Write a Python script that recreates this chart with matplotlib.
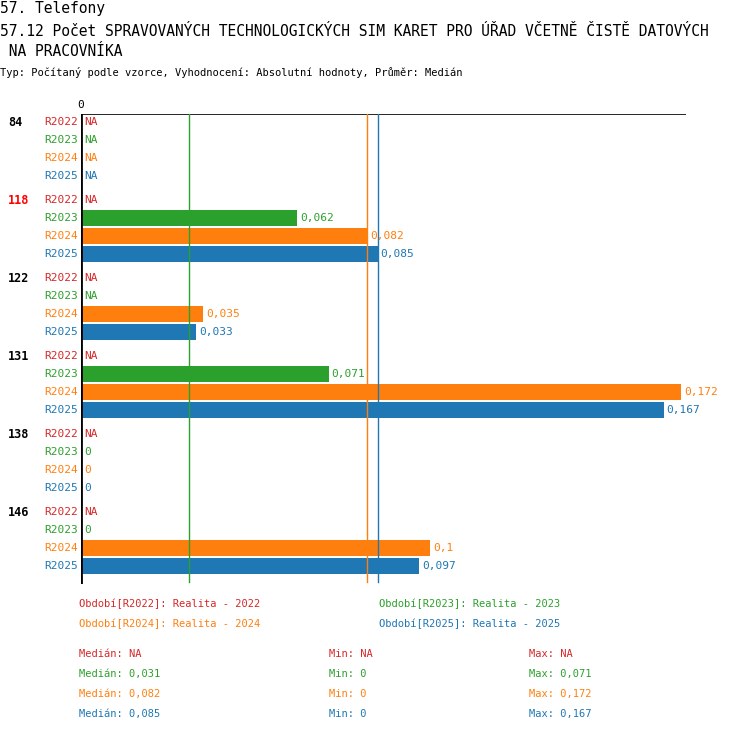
import matplotlib
matplotlib.use('Agg')
import matplotlib.pyplot as plt
import numpy as np

plt.rcParams['font.family'] = ['DejaVu Sans Mono']

groups = ['84', '118', '122', '131', '138', '146']
series = ['R2022', 'R2023', 'R2024', 'R2025']
colors = ['#d62728', '#2ca02c', '#ff7f0e', '#1f77b4']
values = [
    [None, None, None, None],
    [None, 0.062, 0.082, 0.085],
    [None, None, 0.035, 0.033],
    [None, 0.071, 0.172, 0.167],
    [None, 0, 0, 0],
    [None, 0, 0.1, 0.097],
]
labels = [
    [None, None, None, None],
    [None, '0,062', '0,082', '0,085'],
    [None, None, '0,035', '0,033'],
    [None, '0,071', '0,172', '0,167'],
    [None, '0', '0', '0'],
    [None, '0', '0,1', '0,097'],
]
medians = [None, 0.031, 0.082, 0.085]
legend_names = ['Období[R2022]: Realita - 2022', 'Období[R2023]: Realita - 2023',
                'Období[R2024]: Realita - 2024', 'Období[R2025]: Realita - 2025']
stats_med = ['Medián: NA', 'Medián: 0,031', 'Medián: 0,082', 'Medián: 0,085']
stats_min = ['Min: NA', 'Min: 0', 'Min: 0', 'Min: 0']
stats_max = ['Max: NA', 'Max: 0,071', 'Max: 0,172', 'Max: 0,167']

W, H = 750, 732
fig = plt.figure(figsize=(W / 100, H / 100), dpi=100)
x0, x1, y0, y1 = 81, 686, 114, 584
ax = fig.add_axes([x0 / W, 1 - y1 / H, (x1 - x0) / W, (y1 - y0) / H])
ppu = 600 / 0.172
ax.set_xlim(0, (x1 - x0) / ppu)
ax.set_ylim(y1, y0)
ax.axis('off')
ax.plot([0, 1], [1, 1], transform=ax.transAxes, color='black', lw=1.2)
ax.plot([0, 0], [0, 1], transform=ax.transAxes, color='black', lw=2)
ax.text(0, y0 - 4, '0', ha='center', va='bottom', fontsize=8)

for m, c in zip(medians, colors):
    if m is not None:
        ax.plot([m, m], [y0, y1 - 2], color=c, lw=1)

for g, name in enumerate(groups):
    for r, s in enumerate(series):
        y = 122 + 78 * g + 18 * r
        v = values[g][r]
        c = colors[r]
        ax.text(-3 / ppu, y, s, ha='right', va='center', fontsize=8, color=c)
        if v is None:
            ax.text(3 / ppu, y, 'NA', ha='left', va='center', fontsize=8, color=c)
        else:
            if v > 0:
                ax.barh(y, v, height=16, color=c)
            ax.text(v + 3 / ppu, y, labels[g][r], ha='left', va='center', fontsize=8, color=c)
    fig.text(8 / W, 1 - (122 + 78 * g) / H, name, ha='left', va='center', fontsize=8.5,
             fontweight='bold', color='red' if name == '118' else 'black')

fig.text(0, 1 - 8 / H, '57. Telefony', ha='left', va='center', fontsize=10.5)
fig.text(0, 1 - 31 / H, '57.12 Počet SPRAVOVANÝCH TECHNOLOGICKÝCH SIM KARET PRO ÚŘAD VČETNĚ ČISTĚ DATOVÝCH',
         ha='left', va='center', fontsize=10.5)
fig.text(0, 1 - 52 / H, ' NA PRACOVNÍKA', ha='left', va='center', fontsize=10.5)
fig.text(0, 1 - 73 / H, 'Typ: Počítaný podle vzorce, Vyhodnocení: Absolutní hodnoty, Průměr: Medián',
         ha='left', va='center', fontsize=7.5)

for i, (t, c) in enumerate(zip(legend_names, colors)):
    fig.text((79 if i % 2 == 0 else 379) / W, 1 - (604 + 20 * (i // 2)) / H, t,
             ha='left', va='center', fontsize=7.5, color=c)
for i, c in enumerate(colors):
    yy = 1 - (654 + 20 * i) / H
    fig.text(79 / W, yy, stats_med[i], ha='left', va='center', fontsize=7.5, color=c)
    fig.text(329 / W, yy, stats_min[i], ha='left', va='center', fontsize=7.5, color=c)
    fig.text(529 / W, yy, stats_max[i], ha='left', va='center', fontsize=7.5, color=c)

fig.savefig('out.png', dpi=100)
